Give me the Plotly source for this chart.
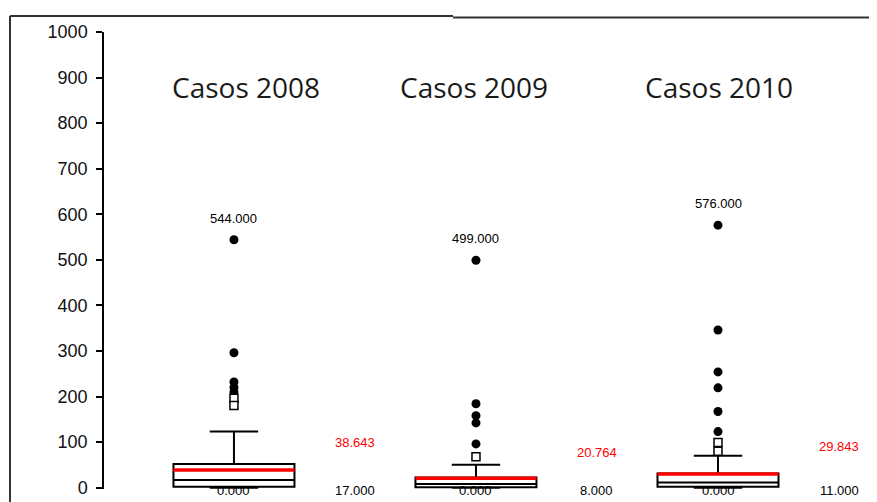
import plotly.graph_objects as go

# data
years = ["2008", "2009", "2010"]
titles = ["Casos 2008", "Casos 2009", "Casos 2010"]
q1 = [2, 1, 2]
medians = [17, 8, 11]
q3 = [52, 22, 31]
lower_fence = [0, 0, 0]
upper_fence = [123, 50, 70]
means = [38.643, 20.764, 29.843]
max_vals = [544, 499, 576]
outliers_far = [
    [544, 296, 232, 220, 210],
    [499, 184, 158, 142, 96],
    [576, 346, 254, 219, 167, 123],
]
outliers_near = [
    [196, 180],
    [68],
    [99, 80],
]

# layout helpers (not data)
box_w = 0.5
mean_label_y = [98, 77, 90]
title_shift = [12, -2, 1]
label_font = dict(family="Liberation Sans, Arial", size=13, color="black")

# the page body adds an 8px margin, so the figure is 869x494 and starts at (8, 8)
def px_x(p):
    return (p - 104) / 773

def px_y(p):
    return (489.4 - p) / 457.4

fig = go.Figure()

for i in range(len(years)):
    fig.add_trace(go.Box(
        x=[i], q1=[q1[i]], median=[medians[i]], q3=[q3[i]],
        lowerfence=[lower_fence[i]], upperfence=[upper_fence[i]],
        width=box_w, whiskerwidth=0.4, boxpoints=False,
        fillcolor="white", line=dict(color="black", width=2),
        showlegend=False, hoverinfo="skip",
    ))
    # red mean line across the box
    fig.add_trace(go.Scatter(
        x=[i - box_w / 2, i + box_w / 2], y=[means[i], means[i]],
        mode="lines", line=dict(color="red", width=3.5),
        showlegend=False, hoverinfo="skip",
    ))
    fig.add_trace(go.Scatter(
        x=[i] * len(outliers_far[i]), y=outliers_far[i], mode="markers",
        marker=dict(symbol="circle", size=9, color="black"),
        showlegend=False,
    ))
    fig.add_trace(go.Scatter(
        x=[i] * len(outliers_near[i]), y=outliers_near[i], mode="markers",
        marker=dict(symbol="square", size=8, color="white",
                    line=dict(color="black", width=1.5)),
        showlegend=False,
    ))

    fig.add_annotation(x=i, y=900, text=titles[i], showarrow=False,
                       font=dict(family="Open Sans", size=28, color="#1a1a1a"),
                       yanchor="middle", yshift=-9, xshift=title_shift[i])
    fig.add_annotation(x=i, y=max_vals[i], text=f"{max_vals[i]:.3f}", showarrow=False,
                       font=label_font, yanchor="bottom", yshift=12)
    fig.add_annotation(x=i, y=0, text="0.000", showarrow=False,
                       font=label_font, yanchor="middle", yshift=-3)
    fig.add_annotation(x=i + 0.5, y=0, text=f"{medians[i]:.3f}", showarrow=False,
                       font=label_font, yanchor="middle", yshift=-3)
    fig.add_annotation(x=i + 0.5, y=mean_label_y[i], text=f"{means[i]:.3f}", showarrow=False,
                       font=dict(family="Liberation Sans, Arial", size=13, color="red"))

# frame lines around the chart
frame = dict(color="#333", width=2)
fig.add_shape(type="line", xref="paper", yref="paper",
              x0=px_x(10), x1=px_x(10), y0=px_y(16), y1=px_y(510), line=frame)
fig.add_shape(type="line", xref="paper", yref="paper",
              x0=px_x(10), x1=px_x(453), y0=px_y(16), y1=px_y(16), line=frame)
fig.add_shape(type="line", xref="paper", yref="paper",
              x0=px_x(453), x1=px_x(885), y0=px_y(17.5), y1=px_y(17.5), line=frame)

ticks = list(range(0, 1001, 100))
fig.update_layout(
    width=869, height=494,
    margin=dict(l=96, r=0, t=24, b=13),
    paper_bgcolor="white", plot_bgcolor="white",
    xaxis=dict(range=[-0.537, 2.657], visible=False),
    yaxis=dict(range=[-3, 1000], tickmode="array", tickvals=ticks,
               ticks="outside", ticklen=6, tickwidth=1.5, tickcolor="black",
               ticklabelstandoff=5,
               showline=True, linecolor="black", linewidth=1.5,
               showgrid=False, zeroline=False,
               tickfont=dict(family="Liberation Sans, Arial", size=18, color="#111")),
    yaxis2=dict(range=[-3, 1000], overlaying="y", side="left", anchor="x",
                tickmode="array", tickvals=ticks,
                ticks="inside", ticklen=8, tickwidth=1.5, tickcolor="black",
                showticklabels=False, showgrid=False, zeroline=False, showline=False),
)

fig.write_html("out.html")
